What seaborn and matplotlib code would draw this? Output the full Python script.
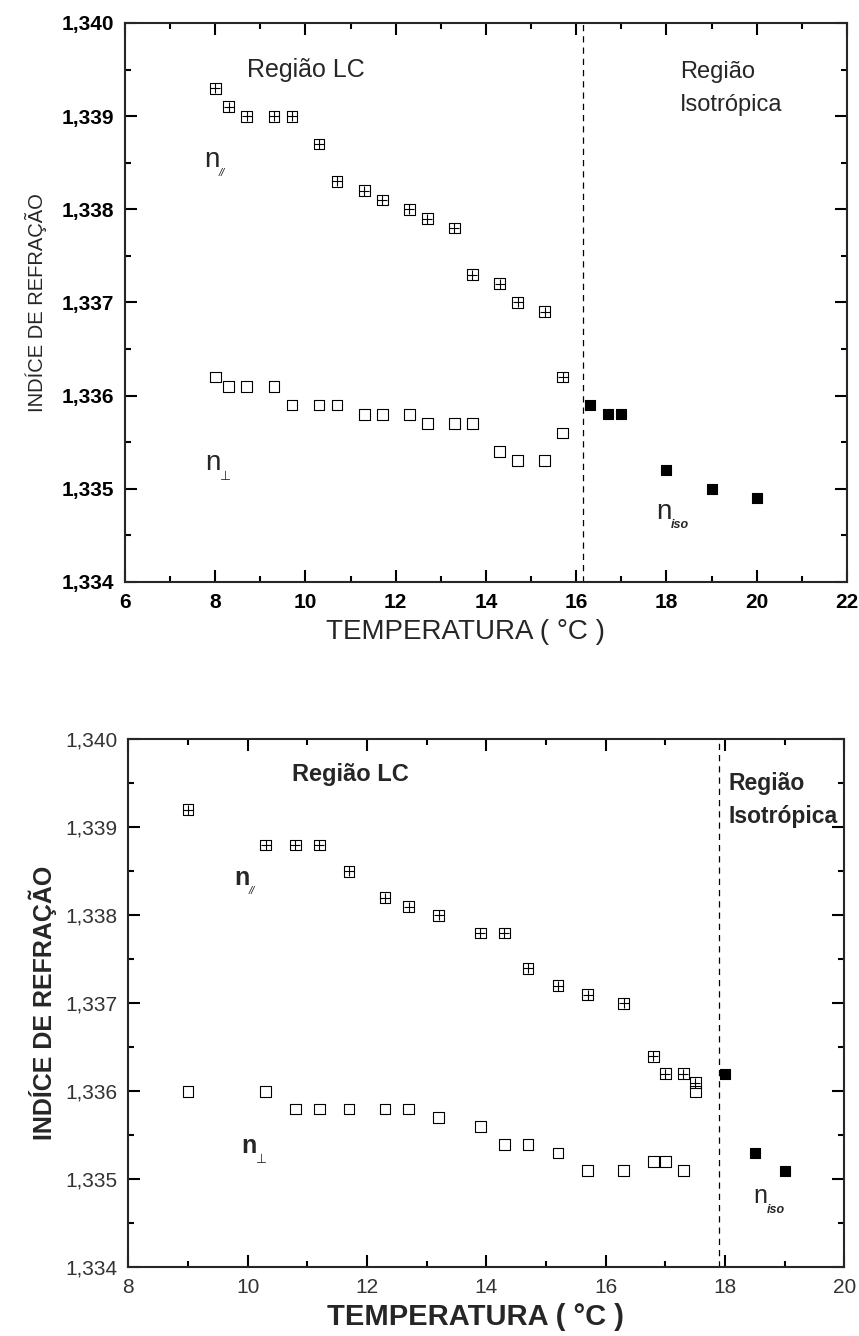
import numpy as np
import pandas as pd
import seaborn as sns
from matplotlib import pyplot as plt
from matplotlib.ticker import MultipleLocator, FuncFormatter

### data
# top panel
top_par_t = [8.0, 8.3, 8.7, 9.3, 9.7, 10.3, 10.7, 11.3, 11.7, 12.3, 12.7, 13.3, 13.7, 14.3, 14.7, 15.3, 15.7]
top_par_n = [1.3393, 1.3391, 1.3390, 1.3390, 1.3390, 1.3387, 1.3383, 1.3382, 1.3381, 1.3380, 1.3379, 1.3378,
             1.3373, 1.3372, 1.3370, 1.3369, 1.3362]
top_perp_t = [8.0, 8.3, 8.7, 9.3, 9.7, 10.3, 10.7, 11.3, 11.7, 12.3, 12.7, 13.3, 13.7, 14.3, 14.7, 15.3, 15.7]
top_perp_n = [1.3362, 1.3361, 1.3361, 1.3361, 1.3359, 1.3359, 1.3359, 1.3358, 1.3358, 1.3358, 1.3357, 1.3357,
              1.3357, 1.3354, 1.3353, 1.3353, 1.3356]
top_iso_t = [16.3, 16.7, 17.0, 18.0, 19.0, 20.0]
top_iso_n = [1.3359, 1.3358, 1.3358, 1.3352, 1.3350, 1.3349]
top_transition = 16.15

# bottom panel
bot_par_t = [9.0, 10.3, 10.8, 11.2, 11.7, 12.3, 12.7, 13.2, 13.9, 14.3, 14.7, 15.2, 15.7, 16.3, 16.8, 17.0, 17.3, 17.5]
bot_par_n = [1.3392, 1.3388, 1.3388, 1.3388, 1.3385, 1.3382, 1.3381, 1.3380, 1.3378, 1.3378, 1.3374, 1.3372,
             1.3371, 1.3370, 1.3364, 1.3362, 1.3362, 1.3361]
bot_perp_t = [9.0, 10.3, 10.8, 11.2, 11.7, 12.3, 12.7, 13.2, 13.9, 14.3, 14.7, 15.2, 15.7, 16.3, 16.8, 17.0, 17.3, 17.5]
bot_perp_n = [1.3360, 1.3360, 1.3358, 1.3358, 1.3358, 1.3358, 1.3358, 1.3357, 1.3356, 1.3354, 1.3354, 1.3353,
              1.3351, 1.3351, 1.3352, 1.3352, 1.3351, 1.3360]
bot_iso_t = [18.0, 18.5, 19.0]
bot_iso_n = [1.3362, 1.3353, 1.3351]
bot_transition = 17.9

sns.set_style('ticks')
plt.rcParams['font.family'] = ['Liberation Sans', 'DejaVu Sans']
plt.rcParams['axes.linewidth'] = 1.5

MS = 60  # marker area


def comma_fmt(v, pos):
    return ('%.3f' % v).replace('.', ',')


def draw_points(ax, par_t, par_n, perp_t, perp_n, iso_t, iso_n):
    par = pd.DataFrame({'T': par_t, 'n': par_n})
    perp = pd.DataFrame({'T': perp_t, 'n': perp_n})
    iso = pd.DataFrame({'T': iso_t, 'n': iso_n})
    # crossed squares = open square + plus
    sns.scatterplot(data=par, x='T', y='n', marker='s', s=MS, facecolors='none', edgecolor='black',
                    linewidth=0.8, ax=ax, zorder=3)
    sns.scatterplot(data=par, x='T', y='n', marker='+', s=MS, color='black', linewidth=0.8, ax=ax, zorder=3)
    sns.scatterplot(data=perp, x='T', y='n', marker='s', s=MS, facecolors='none', edgecolor='black',
                    linewidth=0.8, ax=ax, zorder=3)
    sns.scatterplot(data=iso, x='T', y='n', marker='s', s=MS, color='black', edgecolor='black',
                    linewidth=0.8, ax=ax, zorder=3)


def style_axes(ax, xmin, xmax, tickweight, tickcolor):
    ax.set_xlim(xmin, xmax)
    ax.set_ylim(1.334, 1.340)
    ax.xaxis.set_major_locator(MultipleLocator(2))
    ax.xaxis.set_minor_locator(MultipleLocator(1))
    ax.yaxis.set_major_locator(MultipleLocator(0.001))
    ax.yaxis.set_minor_locator(MultipleLocator(0.0005))
    ax.yaxis.set_major_formatter(FuncFormatter(comma_fmt))
    ax.tick_params(which='both', direction='in', top=True, right=True, width=1.5, colors='black')
    ax.tick_params(which='major', length=8.5)
    ax.tick_params(which='minor', length=4.5)
    ax.tick_params(axis='both', which='major', labelsize=15, pad=8, labelcolor=tickcolor)
    for lab in ax.get_xticklabels() + ax.get_yticklabels():
        lab.set_fontweight(tickweight)
    for sp in ax.spines.values():
        sp.set_visible(True)
        sp.set_linewidth(1.5)


def n_label(ax, x, y, sub, size, subsize, weight, substyle, subweight, dx, dy, family=None):
    ax.text(x, y, 'n', fontsize=size, fontweight=weight, ha='left', va='baseline')
    kw = {}
    if family is not None:
        kw['family'] = family
    ax.annotate(sub, xy=(x, y), xytext=(dx, dy), textcoords='offset points', fontsize=subsize,
                fontstyle=substyle, fontweight=subweight, ha='left', va='baseline', **kw)


fig = plt.figure(figsize=(8.59, 13.36), dpi=100)
ax1 = fig.add_axes([0.1455, 0.5644, 0.8405, 0.4184])
ax2 = fig.add_axes([0.1494, 0.0514, 0.8335, 0.3952])

### top panel
draw_points(ax1, top_par_t, top_par_n, top_perp_t, top_perp_n, top_iso_t, top_iso_n)
ax1.axvline(top_transition, color='black', linewidth=0.9, linestyle=(0, (5, 4)), zorder=2)
style_axes(ax1, 6, 22, 'bold', 'black')
ax1.set_xlabel('TEMPERATURA ( °C )', fontsize=20, labelpad=5)
ax1.xaxis.label.set_x(0.472)
ax1.set_ylabel('INDÍCE DE REFRAÇÃO', fontsize=14.5, labelpad=10)
ax1.text(8.7, 1.33942, 'Região LC', fontsize=18, ha='left', va='baseline')
ax1.text(18.3, 1.33941, 'Região', fontsize=17, ha='left', va='baseline')
ax1.text(18.3, 1.33905, 'Isotrópica', fontsize=17, ha='left', va='baseline')
n_label(ax1, 7.75, 1.33845, '//', 20, 8, 'normal', 'italic', 'normal', 10.5, -6)
n_label(ax1, 7.78, 1.33520, '⊥', 20, 9, 'normal', 'normal', 'normal', 10.5, -7,
        family=['DejaVu Sans'])
n_label(ax1, 17.78, 1.33468, 'iso', 20, 9, 'normal', 'italic', 'bold', 10, -7)

### bottom panel
draw_points(ax2, bot_par_t, bot_par_n, bot_perp_t, bot_perp_n, bot_iso_t, bot_iso_n)
ax2.axvline(bot_transition, color='black', linewidth=0.9, linestyle=(0, (5, 4)), zorder=2)
style_axes(ax2, 8, 20, 'normal', '#333333')
ax2.set_xlabel('TEMPERATURA ( °C )', fontsize=21, fontweight='bold', labelpad=4)
ax2.xaxis.label.set_x(0.485)
ax2.set_ylabel('INDÍCE DE REFRAÇÃO', fontsize=18, fontweight='bold', labelpad=6)
ax2.text(10.75, 1.33953, 'Região LC', fontsize=17, fontweight='bold', ha='left', va='baseline')
ax2.text(18.06, 1.33942, 'Região', fontsize=16.5, fontweight='bold', ha='left', va='baseline')
ax2.text(18.06, 1.33905, 'Isotrópica', fontsize=16.5, fontweight='bold', ha='left', va='baseline')
n_label(ax2, 9.78, 1.33834, '//', 18, 8, 'bold', 'italic', 'normal', 10.5, -6)
n_label(ax2, 9.9, 1.33530, '⊥', 18, 9, 'bold', 'normal', 'normal', 10, -7,
        family=['DejaVu Sans'])
n_label(ax2, 18.48, 1.33473, 'iso', 18, 9, 'normal', 'italic', 'bold', 9.5, -7)

plt.savefig('out.png', dpi=100)
